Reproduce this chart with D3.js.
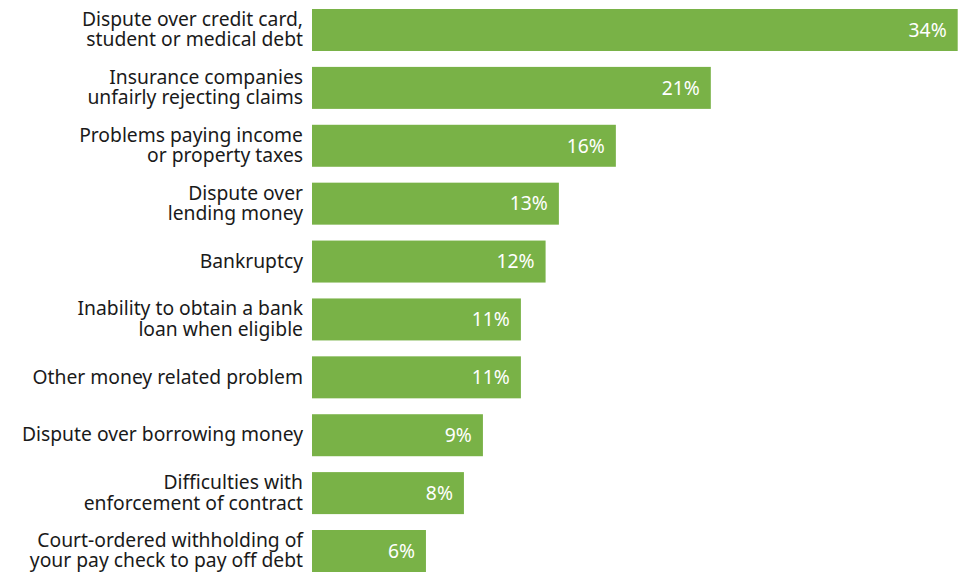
<!DOCTYPE html>
<html><head><meta charset="utf-8">
<script src="https://cdn.jsdelivr.net/npm/d3@7"></script>
<style>html,body{margin:0;padding:0;background:#fff;}svg{display:block;}</style>
</head><body>
<svg id="chart" width="973" height="572"></svg>
<script>
const categories = [
  ["Dispute over credit card,", "student or medical debt"],
  ["Insurance companies", "unfairly rejecting claims"],
  ["Problems paying income", "or property taxes"],
  ["Dispute over", "lending money"],
  ["Bankruptcy"],
  ["Inability to obtain a bank", "loan when eligible"],
  ["Other money related problem"],
  ["Dispute over borrowing money"],
  ["Difficulties with", "enforcement of contract"],
  ["Court-ordered withholding of", "your pay check to pay off debt"]
];
const values = [34, 21, 16, 13, 12.3, 11, 11, 9, 8, 6];
const valueLabels = ["34%", "21%", "16%", "13%", "12%", "11%", "11%", "9%", "8%", "6%"];

const svg = d3.select("#chart");
const left = 312, right = 957.7;
const ids = categories.map((c, i) => i);

const x = d3.scaleLinear().domain([0, 34]).range([left, right]);
const y = d3.scaleBand().domain(ids).range([9, 572]).paddingInner(0.2746).paddingOuter(0);

const font = "'Noto Sans', 'Open Sans', sans-serif";

svg.selectAll("rect.bar").data(ids).enter().append("rect")
  .attr("class", "bar")
  .attr("x", x(0))
  .attr("y", i => y(i))
  .attr("width", i => x(values[i]) - x(0))
  .attr("height", y.bandwidth())
  .attr("fill", "#79b247");

svg.selectAll("text.val").data(ids).enter().append("text")
  .attr("class", "val")
  .attr("x", i => x(values[i]) - 11)
  .attr("y", i => y(i) + y.bandwidth() / 2)
  .attr("dy", "0.35em")
  .attr("text-anchor", "end")
  .attr("fill", "#ffffff")
  .style("font-family", font)
  .style("font-size", "19.3px")
  .text(i => valueLabels[i]);

const lineH = 20.5;
const lab = svg.selectAll("text.cat").data(ids).enter().append("text")
  .attr("class", "cat")
  .attr("text-anchor", "end")
  .attr("fill", "#1a1a1a")
  .style("font-family", font)
  .style("font-size", "19.3px");
lab.each(function(i) {
  const lines = categories[i];
  const cy = y(i) + y.bandwidth() / 2;
  const t = d3.select(this);
  lines.forEach((l, k) => {
    t.append("tspan")
      .attr("x", 303)
      .attr("y", cy + (k - (lines.length - 1) / 2) * lineH)
      .attr("dy", "0.32em")
      .text(l);
  });
});
</script>
</body></html>
